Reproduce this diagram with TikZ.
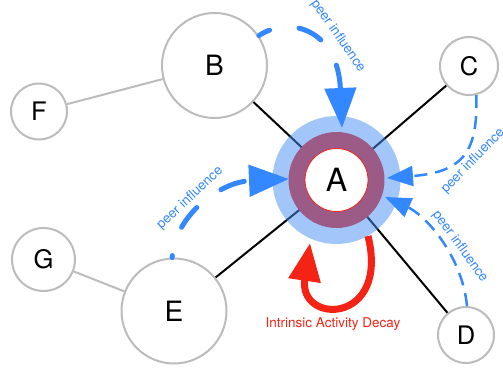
\documentclass[tikz,border=0pt]{standalone}
\usepackage{fontspec}
\setmainfont{TeX Gyre Heros}
\usetikzlibrary{arrows.meta}
\definecolor{peerblue}{RGB}{52,136,255}
\definecolor{glowblue}{RGB}{72,143,243}
\definecolor{decayred}{RGB}{245,35,22}
\definecolor{nodegray}{RGB}{188,188,188}

\begin{document}
\begin{tikzpicture}[x=1pt,y=-1pt,
	agent/.style={circle,draw=nodegray,line width=2pt,fill=white,inner sep=0pt,font=\fontsize{25.5}{27}\selectfont},
	bigagent/.style={agent,minimum size=105pt,font=\fontsize{28}{30}\selectfont},
	tie/.style={line width=2pt,black},
	weaktie/.style={line width=2pt,nodegray},
	peerthick/.style={peerblue,line width=5pt,line cap=round,dash pattern=on 25pt off 30pt,-{Triangle[length=40pt,width=31pt]}},
	peerthin/.style={peerblue,line width=2.5pt,dash pattern=on 13pt off 8pt,-{Triangle[length=26pt,width=20pt]}},
	peerlabel/.style={text=peerblue,font=\fontsize{13.5}{15}\selectfont,inner sep=0pt}]
	\useasboundingbox (0,0) rectangle (503,369);

	\node[bigagent](B) at (214.5,65.5){B};
	\node[bigagent](E) at (174,311){E};
	\node[agent,minimum size=58pt](C) at (469,66){C};
	\node[agent,minimum size=56pt](F) at (39,111.5){F};
	\node[agent,minimum size=63pt](G) at (43.5,259.5){G};
	\node[agent,minimum size=56pt](D) at (466,335){D};
	\coordinate (hub) at (336.5,180);

	\draw[tie] (B) -- (hub);
	\draw[tie] (C) -- (hub);
	\draw[tie] (D) -- (hub);
	\draw[tie] (E) -- (hub);
	\draw[weaktie] (F) -- (B);
	\draw[weaktie] (G) -- (E);

	\fill[decayred,even odd rule] (hub) circle[radius=48pt] circle[radius=31pt];
	\fill[glowblue,fill opacity=.51] (hub) circle[radius=64pt];
	\node[circle,draw=decayred,line width=.8pt,fill=white,inner sep=0pt,minimum size=63pt,font=\fontsize{32}{34}\selectfont](A) at (hub){A};

	\coordinate (tipB) at (342,128);
	\coordinate (tipE) at (289,179);
	\coordinate (tipC) at (387,178);
	\coordinate (tipD) at (385,197);
	\coordinate (decaystart) at (368,236);
	\coordinate (decaytip) at (310,243);

	\draw[peerthick,dash phase=13pt] (B.34) .. controls (290,15) and (338,30) .. (tipB);
	\draw[peerthick,dash phase=23pt] (E.92) .. controls (175,215) and (220,182) .. (tipE);
	\draw[peerthin] (C.-76) .. controls (478,150) and (465,172) .. (tipC);
	\draw[peerthin] (D.88) .. controls (462,255) and (425,215) .. (tipD);
	\draw[decayred,line width=7pt,-{Triangle[length=38pt,width=31pt]}] (decaystart) .. controls (390,325) and (298,325) .. (decaytip);

	\node[peerlabel,rotate=-55](lblB) at (338,36){peer influence};
	\node[peerlabel,rotate=43](lblE) at (190,198){peer influence};
	\node[peerlabel,rotate=46](lblC) at (473,161){peer influence};
	\node[peerlabel,rotate=-54](lblD) at (460,246.5){peer influence};
	\node[text=decayred,font=\fontsize{13.5}{15}\selectfont](lblDecay) at (333,324){Intrinsic Activity Decay};
\end{tikzpicture}
\end{document}
